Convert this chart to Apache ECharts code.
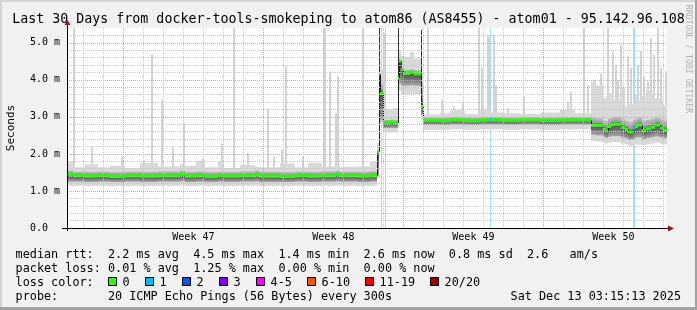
<!DOCTYPE html>
<html>
<head>
<meta charset="utf-8">
<script src="https://cdn.jsdelivr.net/npm/echarts@6.0.0/dist/echarts.min.js"></script>
<style>
html, body { margin: 0; padding: 0; background: #f1f1f1; }
#chart { width: 697px; height: 310px; }
</style>
</head>
<body>
<div id="chart"></div>
<script>
// ===== DATA (time in days since graph start, values in milliseconds) =====
// step segments: start time of each segment
const segStart = [0.00, 0.30, 0.90, 1.55, 2.15, 2.90, 3.65, 4.55, 5.65, 5.90, 6.45, 6.90, 7.55, 7.85, 8.65, 9.40, 9.60, 10.65, 11.40, 12.05, 12.75, 13.45, 13.65, 14.55, 15.15,
  15.475, 15.575, 15.625, 15.775, 16.15, 16.30, 16.525, 16.615, 16.685, 16.785, 17.15, 17.35, 17.71, 17.785,
  18.65, 19.15, 19.90, 20.65, 21.125, 21.175, 21.90, 22.65, 23.65, 24.65, 25.40,
  26.175, 26.45, 26.80, 26.95, 27.025, 27.20, 27.35, 27.70, 27.90, 28.05, 28.275, 28.375, 28.55, 28.75, 28.95, 29.20, 29.40, 29.65, 29.80];
// median rtt of each segment
const segMedian = [1.44, 1.41, 1.40, 1.41, 1.39, 1.41, 1.40, 1.41, 1.45, 1.40, 1.41, 1.39, 1.41, 1.40, 1.41, 1.44, 1.40, 1.39, 1.41, 1.40, 1.41, 1.44, 1.41, 1.40, 1.41,
  2.06, 4.15, 3.63, 2.84, 2.86, 2.84, 4.05, 4.50, 4.28, 4.17, 4.20, 4.16, 3.28, 2.90,
  2.89, 2.91, 2.89, 2.91, 2.92, 2.91, 2.90, 2.91, 2.90, 2.91, 2.91,
  2.77, 2.77, 2.67, 2.62, 2.74, 2.78, 2.80, 2.71, 2.66, 2.59, 2.69, 2.74, 2.78, 2.63, 2.68, 2.72, 2.78, 2.70, 2.64];
// lost pings (out of 20) of each segment
const segLoss = [0, 0, 0, 0, 0, 0, 0, 0, 0, 0, 0, 0, 0, 0, 0, 0, 0, 0, 0, 0, 0, 0, 0, 0, 0,
  0, 1, 0, 0, 0, 0, 0, 0, 0, 0, 0, 0, 0, 0,
  0, 0, 0, 0, 1, 0, 0, 0, 0, 0, 0,
  0, 0, 0, 0, 0, 0, 0, 0, 0, 0, 1, 0, 0, 0, 0, 0, 0, 0, 0];
// smoke: lowest ping, lower core, upper core, highest ping
const segLow = [1.14, 1.14, 1.13, 1.14, 1.13, 1.14, 1.13, 1.14, 1.15, 1.13, 1.14, 1.13, 1.14, 1.13, 1.14, 1.15, 1.13, 1.13, 1.14, 1.13, 1.14, 1.15, 1.14, 1.13, 1.14,
  1.35, 2.80, 2.80, 2.58, 2.58, 2.58, 2.80, 3.70, 3.60, 3.60, 3.62, 3.60, 2.95, 2.65,
  2.65, 2.66, 2.65, 2.66, 2.66, 2.66, 2.65, 2.66, 2.65, 2.66, 2.66,
  2.35, 2.33, 2.30, 2.28, 2.30, 2.32, 2.32, 2.28, 2.26, 2.22, 2.22, 2.25, 2.25, 2.24, 2.26, 2.28, 2.30, 2.27, 2.26];
const segCoreLow = [1.25, 1.25, 1.24, 1.25, 1.24, 1.25, 1.24, 1.25, 1.26, 1.24, 1.25, 1.24, 1.25, 1.24, 1.25, 1.26, 1.24, 1.24, 1.25, 1.24, 1.25, 1.26, 1.25, 1.24, 1.25,
  1.42, 2.90, 2.90, 2.70, 2.70, 2.70, 2.90, 3.90, 3.85, 3.84, 3.85, 3.84, 3.05, 2.78,
  2.78, 2.79, 2.78, 2.79, 2.79, 2.79, 2.78, 2.79, 2.78, 2.79, 2.79,
  2.52, 2.50, 2.45, 2.43, 2.46, 2.48, 2.48, 2.44, 2.42, 2.38, 2.40, 2.44, 2.45, 2.40, 2.43, 2.45, 2.47, 2.44, 2.42];
const segCoreHigh = [1.55, 1.52, 1.52, 1.52, 1.51, 1.52, 1.52, 1.53, 1.55, 1.52, 1.53, 1.51, 1.52, 1.52, 1.53, 1.55, 1.52, 1.51, 1.52, 1.52, 1.53, 1.55, 1.52, 1.52, 1.53,
  2.02, 4.10, 3.90, 2.92, 2.93, 2.92, 4.10, 4.55, 4.32, 4.27, 4.28, 4.26, 3.90, 2.98,
  2.98, 2.99, 2.98, 2.99, 3.00, 2.99, 2.98, 2.99, 2.98, 2.99, 2.99,
  2.98, 2.96, 2.90, 2.88, 2.95, 2.98, 3.00, 2.94, 2.90, 2.86, 2.92, 2.95, 2.98, 2.90, 2.92, 2.95, 2.98, 2.94, 2.90];
const segHigh = [1.80, 1.64, 1.72, 1.64, 1.68, 1.62, 1.76, 1.66, 1.72, 1.68, 1.82, 1.64, 1.80, 1.62, 1.70, 1.66, 1.64, 1.74, 1.64, 1.76, 1.66, 1.70, 1.65, 1.66, 1.79,
  2.30, 4.40, 4.30, 3.22, 3.20, 3.24, 4.40, 4.80, 4.65, 4.62, 4.75, 4.58, 4.20, 3.07,
  3.10, 3.18, 3.08, 3.20, 3.15, 3.12, 3.10, 3.08, 3.12, 3.20, 3.10,
  3.95, 3.85, 3.50, 3.55, 3.65, 3.60, 3.45, 3.80, 3.30, 3.35, 3.40, 3.60, 3.45, 3.55, 3.70, 3.60, 3.50, 3.45, 3.30];
// isolated slow pings: [time, from, to]
const lightSpikes = [[0.32, 1.6, 5.4], [1.18, 1.6, 2.18], [2.68, 1.6, 1.93], [3.82, 1.6, 1.82], [4.18, 1.6, 4.68], [4.68, 1.6, 3.46],
  [5.24, 1.6, 2.18], [5.78, 1.6, 2.83], [6.74, 1.6, 1.86], [7.68, 1.6, 2.29], [8.32, 1.6, 5.4], [9.02, 1.6, 2.02], [9.98, 1.6, 3.19],
  [10.28, 1.6, 1.93], [10.68, 1.6, 2.13], [10.90, 1.6, 4.36], [11.74, 1.6, 1.93], [12.80, 1.6, 5.4], [12.85, 1.6, 5.4], [13.10, 1.6, 4.22],
  [13.40, 1.6, 3.10], [13.48, 1.6, 4.10], [14.74, 1.6, 5.4], [15.79, 3.0, 5.27],
  [17.98, 3.0, 5.4], [18.68, 3.0, 3.46], [19.32, 3.0, 3.28], [19.74, 3.0, 3.40], [20.56, 3.0, 5.4], [20.68, 3.0, 4.32], [20.98, 3.0, 5.22],
  [21.06, 3.0, 5.13], [21.28, 3.0, 5.22], [21.40, 3.0, 3.86], [22.02, 3.0, 3.23], [22.82, 3.0, 3.55], [24.98, 3.0, 3.41], [25.15, 3.0, 3.68],
  [25.82, 3.0, 5.4], [25.98, 3.0, 3.86],
  [26.32, 3.3, 4.00], [26.65, 3.3, 4.18], [26.98, 3.3, 5.4], [27.24, 3.3, 4.77], [27.40, 3.3, 4.40], [27.48, 3.3, 4.00], [27.65, 3.3, 4.95],
  [27.98, 3.3, 4.63], [28.15, 3.3, 4.32], [28.48, 3.3, 4.40], [28.65, 3.3, 4.77], [28.80, 3.3, 4.10], [28.98, 3.3, 3.95], [29.15, 3.3, 5.13],
  [29.32, 3.3, 4.68], [29.52, 3.3, 5.4], [29.65, 3.3, 4.32], [29.90, 3.3, 4.23]];
// dense ping spread during the route changes: [time, from, to]
const darkSpikes = [[15.60, 2.85, 5.4], [16.54, 2.85, 5.4], [17.71, 3.28, 5.35]];
// hours with packet loss: [time, lost pings]
const lossBackground = [[15.69, 1], [15.90, 1], [21.165, 1], [28.32, 1], [28.37, 1]];
// axis ticks and labels
const weekStarts = [2.82, 9.82, 16.82, 23.82];
const weekCenters = [6.32, 13.32, 20.32, 27.32];
const weekLabels = ['Week 47', 'Week 48', 'Week 49', 'Week 50'];
const yTicks = [0, 1, 2, 3, 4, 5];
const yTickLabels = ['0.0  ', '1.0 m', '2.0 m', '3.0 m', '4.0 m', '5.0 m'];
const lossLabels = ['0', '1', '2', '3', '4-5', '6-10', '11-19', '20/20'];
const lossColors = ['#26ff00', '#00b8ff', '#0059ff', '#7e00ff', '#ff00ff', '#ff5500', '#ff0000', '#a10000'];
const lossBgColors = ['#ffffff', '#a6def6', '#a6c4f6', '#cfa6f6', '#f6a6f6', '#f6c4a6', '#f6a6a6', '#dca6a6'];
const legendLines = [
  'median rtt:  2.2 ms avg  4.5 ms max  1.4 ms min  2.6 ms now  0.8 ms sd  2.6   am/s',
  'packet loss: 0.01 % avg  1.25 % max  0.00 % min  0.00 % now',
  'loss color:',
  'probe:       20 ICMP Echo Pings (56 Bytes) every 300s'
];
const stampText = 'Sat Dec 13 03:15:13 2025';
const titleText = 'Last 30 Days from docker-tools-smokeping to atom86 (AS8455) - atom01 - 95.142.96.108';
const END_DAY = 30;
const Y_MAX = 5.4;

// ===== rendering =====
const FONT = '"DejaVu Sans Mono", monospace';
const dayLines = [];
for (let d = 0.82; d < END_DAY; d += 1) {
  const r = Math.round(d * 100) / 100;
  if (weekStarts.indexOf(r) < 0) dayLines.push(r);
}
function lossIndex(n) {
  if (n <= 3) return n;
  if (n <= 5) return 4;
  if (n <= 10) return 5;
  if (n <= 19) return 6;
  return 7;
}
function xPix(api, t) { return Math.round(api.coord([t, 0])[0]); }
function yPix(api, v) { return api.coord([0, v])[1]; }
function segEnd(i) { return i + 1 < segStart.length ? segStart[i + 1] : END_DAY; }

function coreFill(yTop, yMed, yBot) {
  const h = yBot - yTop;
  let m = h > 0 ? (yMed - yTop) / h : 0.5;
  m = Math.min(0.95, Math.max(0.05, m));
  return new echarts.graphic.LinearGradient(0, 0, 0, 1, [
    { offset: 0, color: '#bdbdbd' },
    { offset: m * 0.6, color: '#9c9c9c' },
    { offset: m, color: '#4c4c4c' },
    { offset: m + (1 - m) * 0.4, color: '#6c6c6c' },
    { offset: 1, color: '#a8a8a8' }
  ]);
}

const segData = segStart.map((t, i) => [t, segMedian[i]]);

const series = [
  { // loss background
    type: 'custom', coordinateSystem: 'cartesian2d', z: 1, silent: true, clip: true,
    data: lossBackground.map(d => [d[0], 0]),
    encode: { x: 0, y: 1 },
    renderItem: function (params, api) {
      const d = lossBackground[params.dataIndex];
      const cs = params.coordSys;
      return { type: 'rect', shape: { x: xPix(api, d[0]), y: cs.y, width: 1, height: cs.height },
        style: { fill: lossBgColors[lossIndex(d[1])] } };
    }
  },
  { // light spikes
    type: 'custom', coordinateSystem: 'cartesian2d', z: 2, silent: true, clip: true,
    data: lightSpikes.map(d => [d[0], d[2]]),
    encode: { x: 0, y: 1 },
    renderItem: function (params, api) {
      const d = lightSpikes[params.dataIndex];
      const yT = yPix(api, d[2]), yB = yPix(api, d[1]);
      return { type: 'rect', shape: { x: xPix(api, d[0]), y: yT, width: 2, height: yB - yT },
        style: { fill: '#d3d3d3' } };
    }
  },
  { // smoke
    type: 'custom', coordinateSystem: 'cartesian2d', z: 3, silent: true, clip: true,
    data: segData, encode: { x: 0, y: 1 },
    renderItem: function (params, api) {
      const i = params.dataIndex;
      const x0 = xPix(api, segStart[i]);
      const x1 = xPix(api, segEnd(i));
      const w = Math.max(1, x1 - x0);
      const yHi = yPix(api, segHigh[i]), yLo = yPix(api, segLow[i]);
      const yCHi = yPix(api, segCoreHigh[i]), yCLo = yPix(api, segCoreLow[i]);
      const yMed = yPix(api, segMedian[i]);
      return { type: 'group', children: [
        { type: 'rect', shape: { x: x0, y: yHi, width: w, height: yLo - yHi }, style: { fill: '#d9d9d9' } },
        { type: 'rect', shape: { x: x0, y: yCHi, width: w, height: yCLo - yCHi }, style: { fill: coreFill(yCHi, yMed, yCLo) } }
      ] };
    }
  },
  { // dark spikes
    type: 'custom', coordinateSystem: 'cartesian2d', z: 4, silent: true, clip: true,
    data: darkSpikes.map(d => [d[0], d[2]]),
    encode: { x: 0, y: 1 },
    renderItem: function (params, api) {
      const d = darkSpikes[params.dataIndex];
      const yT = yPix(api, d[2]), yB = yPix(api, d[1]);
      return { type: 'rect', shape: { x: xPix(api, d[0]), y: yT, width: 1, height: yB - yT },
        style: { fill: '#333333' } };
    }
  },
  { // median
    type: 'custom', coordinateSystem: 'cartesian2d', z: 5, silent: true, clip: true,
    data: segData, encode: { x: 0, y: 1 },
    renderItem: function (params, api) {
      const i = params.dataIndex;
      const x0 = xPix(api, segStart[i]);
      const x1 = xPix(api, segEnd(i));
      const y = yPix(api, segMedian[i]);
      const children = [];
      if (i > 0) {
        const yp = yPix(api, segMedian[i - 1]);
        if (Math.abs(yp - y) > 2) {
          children.push({ type: 'line', shape: { x1: x0 + 0.5, y1: yp, x2: x0 + 0.5, y2: y },
            style: { stroke: '#1e1e1e', lineWidth: 1 } });
        }
      }
      children.push({ type: 'rect', shape: { x: x0, y: y - 1.5, width: Math.max(1, x1 - x0), height: 3 },
        style: { fill: lossColors[lossIndex(segLoss[i])] } });
      return { type: 'group', children: children };
    }
  }
];

const gridStyleMinor = { color: '#c6c6c6', width: 1, type: [1, 1] };
const gridStyleMajor = { color: '#f09494', width: 1, type: [1, 1] };

const graphics = [];
// frame
graphics.push({ type: 'rect', shape: { x: 0, y: 0, width: 697, height: 2 }, style: { fill: '#d4d4d4' }, z: 100 });
graphics.push({ type: 'rect', shape: { x: 0, y: 0, width: 2, height: 310 }, style: { fill: '#d4d4d4' }, z: 100 });
graphics.push({ type: 'rect', shape: { x: 0, y: 307, width: 697, height: 3 }, style: { fill: '#a2a2a2' }, z: 101 });
graphics.push({ type: 'rect', shape: { x: 695, y: 0, width: 2, height: 310 }, style: { fill: '#a2a2a2' }, z: 101 });
// title
graphics.push({ type: 'text', x: 348.5, y: 19.5, z: 100,
  style: { text: titleText, fill: '#000', font: '13.3px ' + FONT, align: 'center', verticalAlign: 'middle' } });
// vertical unit label
graphics.push({ type: 'text', x: 11, y: 128, rotation: Math.PI / 2, z: 100,
  style: { text: 'Seconds', fill: '#000', font: '11px ' + FONT, align: 'center', verticalAlign: 'middle' } });
// watermark
graphics.push({ type: 'text', x: 688.3, y: 59, rotation: -Math.PI / 2, z: 100,
  style: { text: 'RRDTOOL / TOBI OETIKER', fill: '#b2b2b2', font: '8.2px ' + FONT, align: 'center', verticalAlign: 'middle' } });
// axis line extensions and arrows
graphics.push({ type: 'line', shape: { x1: 62, y1: 228.5, x2: 669, y2: 228.5 }, style: { stroke: '#000', lineWidth: 1 }, z: 100 });
graphics.push({ type: 'line', shape: { x1: 67.5, y1: 231, x2: 67.5, y2: 24 }, style: { stroke: '#000', lineWidth: 1 }, z: 100 });
graphics.push({ type: 'polygon', shape: { points: [[64.5, 25], [70.5, 25], [67.5, 20]] }, style: { fill: '#8b1a1a' }, z: 101 });
graphics.push({ type: 'polygon', shape: { points: [[668, 225.5], [668, 231.5], [674, 228.5]] }, style: { fill: '#8b1a1a' }, z: 101 });
// legend text
const legendY = [255.3, 268.7, 282.7, 297];
legendLines.forEach(function (txt, k) {
  graphics.push({ type: 'text', x: 15.6, y: legendY[k], z: 100,
    style: { text: txt, fill: '#000', font: '11.8px ' + FONT, align: 'left', verticalAlign: 'middle' } });
});
graphics.push({ type: 'text', x: 681, y: legendY[3], z: 100,
  style: { text: stampText, fill: '#000', font: '11.8px ' + FONT, align: 'right', verticalAlign: 'middle' } });
const boxX = [108, 145, 182, 219, 256, 307, 365, 430];
lossLabels.forEach(function (lab, k) {
  graphics.push({ type: 'rect', shape: { x: boxX[k] + 0.5, y: 277.5, width: 8, height: 8 }, z: 100,
    style: { fill: lossColors[k], stroke: '#000', lineWidth: 1 } });
  graphics.push({ type: 'text', x: boxX[k] + 14.6, y: legendY[2], z: 100,
    style: { text: lab, fill: '#000', font: '11.8px ' + FONT, align: 'left', verticalAlign: 'middle' } });
});

const option = {
  animation: false,
  backgroundColor: '#f1f1f1',
  grid: { left: 67, top: 28, width: 600, height: 200, show: true, backgroundColor: '#ffffff', borderWidth: 0 },
  xAxis: [
    {
      type: 'value', min: 0, max: END_DAY, z: 10,
      axisLine: { show: false },
      axisTick: { show: false, customValues: dayLines },
      splitLine: { show: true, lineStyle: gridStyleMinor },
      axisLabel: {
        show: true, customValues: weekCenters, margin: 4,
        color: '#000', fontFamily: FONT, fontSize: 10,
        formatter: function (v) {
          let best = 0;
          weekCenters.forEach(function (c, k) { if (Math.abs(c - v) < Math.abs(weekCenters[best] - v)) best = k; });
          return weekLabels[best];
        }
      }
    },
    {
      type: 'value', min: 0, max: END_DAY, z: 11, position: 'bottom',
      axisLine: { show: false },
      axisTick: { show: false, customValues: weekStarts },
      axisLabel: { show: false },
      splitLine: { show: true, lineStyle: gridStyleMajor }
    }
  ],
  yAxis: {
    type: 'value', min: 0, max: Y_MAX, interval: 1, z: 10,
    axisLine: { show: false },
    axisTick: { show: false, customValues: [1, 2, 3, 4, 5] },
    minorTick: { show: false, splitNumber: 5 },
    splitLine: { show: true, lineStyle: gridStyleMajor },
    minorSplitLine: { show: true, lineStyle: gridStyleMinor },
    axisLabel: {
      customValues: yTicks, margin: 7, color: '#000', fontFamily: FONT, fontSize: 10,
      formatter: function (v) {
        const k = yTicks.indexOf(Math.round(v));
        return k >= 0 ? yTickLabels[k] : '';
      }
    }
  },
  series: series,
  graphic: { elements: graphics }
};

const chart = echarts.init(document.getElementById('chart'), null, { renderer: 'canvas' });
chart.setOption(option);
</script>
</body>
</html>
